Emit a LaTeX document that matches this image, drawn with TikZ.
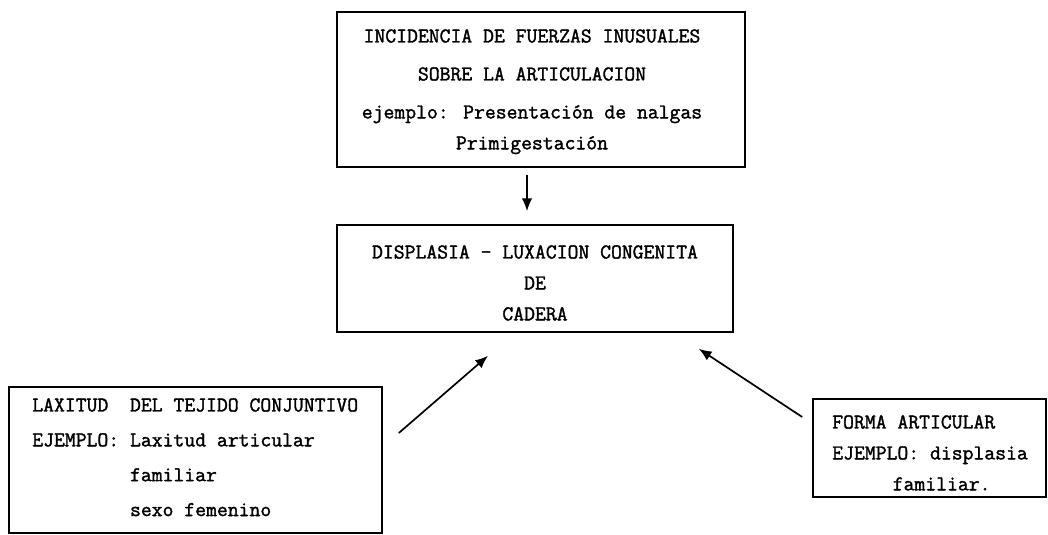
\documentclass[tikz,border=0pt]{standalone}
\usepackage{fontspec}
\newfontfamily\maquina[FakeBold=1.6]{Latin Modern Mono}
\usepackage{tikz}
\usetikzlibrary{arrows.meta,calc}

\begin{document}
\begin{tikzpicture}[x=0.025cm,y=-0.025cm,
    caja/.style={draw,line width=1.1pt,inner sep=0pt},
    texto/.style={inner sep=0pt,font=\maquina\fontsize{15}{#1}\selectfont},
    flecha/.style={line width=1.2pt,-{Latex[length=3.2mm,width=2.6mm]}}]
        \useasboundingbox (0,0) rectangle (1048,534);
        % cajas
        \node[caja,minimum width=10.2cm,minimum height=3.875cm] (causa) at (541,89.5) {};
        \node[caja,minimum width=9.9cm,minimum height=2.675cm] (dlc) at (535,278.5) {};
        \node[caja,minimum width=9.325cm,minimum height=3.65cm] (laxitud) at (195.5,460) {};
        \node[caja,minimum width=5.825cm,minimum height=2.45cm] (forma) at (929.5,448) {};
        % textos
        \node[texto=27pt,align=center,anchor=north] (tcausa) at (532,29)
              {INCIDENCIA DE FUERZAS INUSUALES\\
               SOBRE LA ARTICULACION\\
               ejemplo: Presentación de nalgas\\[-5pt]
               Primigestación};
        \node[texto=22pt,align=center,anchor=north] (tdlc) at (535,245)
              {DISPLASIA - LUXACION CONGENITA\\
               DE\\
               CADERA};
        \node[texto=24.8pt,align=left,anchor=north west] (tlaxitud) at (32,398)
              {LAXITUD\ \ DEL TEJIDO CONJUNTIVO\\
               EJEMPLO: Laxitud articular\\
               \phantom{EJEMPLO: }familiar\\
               \phantom{EJEMPLO: }sexo femenino};
        \node[texto=22pt,align=left,anchor=north west] (tforma) at (832,415)
              {FORMA ARTICULAR\\
               EJEMPLO: displasia\\
               \hspace{43pt}familiar.};
        % flechas
        \draw[flecha] ($(causa.south)+(-14,7)$) -- ($(dlc.north)+(-8,-13)$);
        \draw[flecha] ($(laxitud.east)+(16,-27)$) -- ($(dlc.south)+(-47,23)$);
        \draw[flecha] ($(forma.west)+(-10,-31)$) -- ($(dlc.south east)+(-35,16)$);
\end{tikzpicture}
\end{document}
